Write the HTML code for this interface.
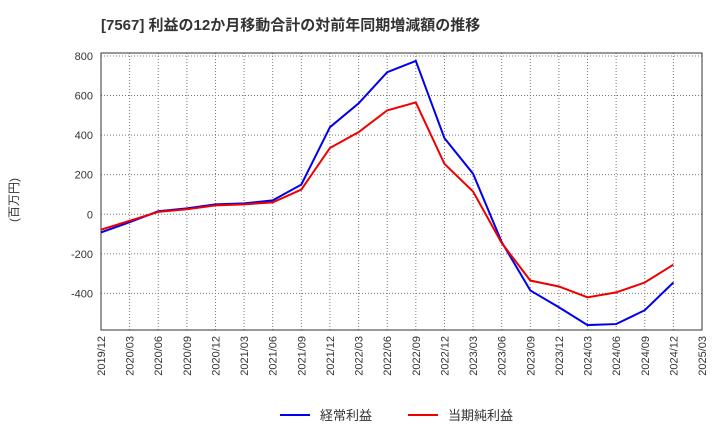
<!DOCTYPE html>
<html><head><meta charset="utf-8"><style>
body{margin:0;background:#fff;font-family:"Liberation Sans","Noto Sans CJK JP",sans-serif;}
text{font-family:"Liberation Sans","Noto Sans CJK JP",sans-serif;}
</style></head><body>
<svg id="chart" width="720" height="440" xmlns="http://www.w3.org/2000/svg">
<text x="101" y="30" font-size="15" font-weight="bold" fill="#333">[7567]  利益の12か月移動合計の対前年同期増減額の推移</text>
<text transform="translate(18,200) rotate(-90)" text-anchor="middle" font-size="12" fill="#333">(百万円)</text>
<g id="grid"></g><g id="axes"></g><g id="series"></g>
<g>
<line x1="280" y1="415" x2="310" y2="415" stroke="#0000ee" stroke-width="2"/>
<text x="320" y="420" font-size="13" fill="#333">経常利益</text>
<line x1="408" y1="415" x2="438" y2="415" stroke="#ee0000" stroke-width="2"/>
<text x="448" y="420" font-size="13" fill="#333">当期純利益</text>
</g>
</svg>
<script>
const categories=["2019/12","2020/03","2020/06","2020/09","2020/12","2021/03","2021/06","2021/09","2021/12","2022/03","2022/06","2022/09","2022/12","2023/03","2023/06","2023/09","2023/12","2024/03","2024/06","2024/09","2024/12","2025/03"];
const ordinaryProfit=[-92,-40,15,30,50,55,70,150,440,560,718,775,385,205,-140,-385,-470,-560,-555,-485,-345];
const netProfit=[-78,-33,12,25,45,50,60,125,335,415,525,565,255,115,-145,-335,-365,-420,-395,-345,-255];
const yTicks=[800,600,400,200,0,-200,-400];
const L=101,R=702,T=53,B=330,yMin=-585,yMax=815;
const ns="http://www.w3.org/2000/svg";
const xs=i=>L+(R-L)*i/(categories.length-1);
const ys=v=>B-(v-yMin)/(yMax-yMin)*(B-T);
function mk(tag,attrs,parent){const e=document.createElementNS(ns,tag);for(const k in attrs)e.setAttribute(k,attrs[k]);document.getElementById(parent).appendChild(e);return e;}
let r=mk('rect',{x:L,y:T,width:R-L,height:B-T,fill:'none',stroke:'#333','stroke-width':1},'axes');


categories.forEach((c,i)=>{
 const x=xs(i);
 let g=mk('line',{x1:x,y1:T,x2:x,y2:B,stroke:'#777','stroke-dasharray':'1,2','stroke-width':1},'grid');
 
 
 let t=mk('text',{transform:`translate(${x+4},${B+6}) rotate(-90)`,'text-anchor':'end','font-size':11,fill:'#333'},'axes');
 t.textContent=c;
 
 
});
yTicks.forEach(v=>{
 const y=ys(v);
 let g=mk('line',{x1:L,y1:y,x2:R,y2:y,stroke:'#777','stroke-dasharray':'1,2','stroke-width':1},'grid');
 
 
 let t=mk('text',{x:L-8,y:y+4,'text-anchor':'end','font-size':11,fill:'#333'},'axes');
 t.textContent=v;
 
 
});
function line(data,color,name){
 const p=mk('polyline',{points:data.map((v,i)=>xs(i)+','+ys(v)).join(' '),fill:'none',stroke:color,'stroke-width':2},'series');
 
 
}
line(ordinaryProfit,'#0000ee','ordinary-profit-line');
line(netProfit,'#ee0000','net-profit-line');
</script>
</body></html>
